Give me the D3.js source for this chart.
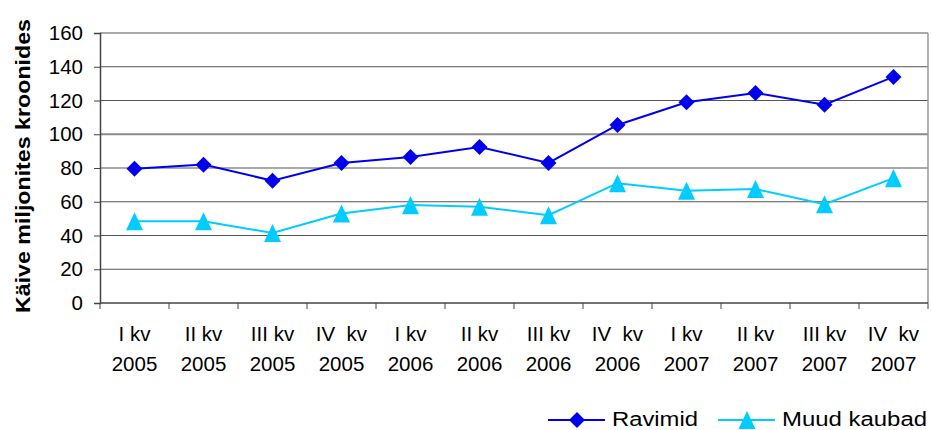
<!DOCTYPE html>
<html>
<head>
<meta charset="utf-8">
<script src="https://cdn.jsdelivr.net/npm/d3@7"></script>
<style>
  body { margin: 0; background: #fff; }
  svg { font-family: Arial, "Liberation Sans", sans-serif; }
</style>
</head>
<body>
<svg id="chart" width="931" height="430"></svg>
<script>
// data
const quarters = ["I kv", "II kv", "III kv", "IV  kv", "I kv", "II kv", "III kv", "IV  kv", "I kv", "II kv", "III kv", "IV  kv"]
const years = ["2005", "2005", "2005", "2005", "2006", "2006", "2006", "2006", "2007", "2007", "2007", "2007"]
const ravimid = [79.5, 82, 72.5, 83, 86.5, 92.5, 83, 105.5, 119, 124.5, 117.5, 134]
const muudKaubad = [48.5, 48.5, 41.5, 53, 58, 57, 52, 71, 66.5, 67.5, 58.5, 74]
const yTicks = [0, 20, 40, 60, 80, 100, 120, 140, 160]

/*** Markers (centred on their box, like the spreadsheet does) ***/
const diamond = {draw(ctx, s) {
  const r = Math.sqrt(s) / 2
  ctx.moveTo(0, -r); ctx.lineTo(r, 0); ctx.lineTo(0, r); ctx.lineTo(-r, 0); ctx.closePath()
}}
const triangle = {draw(ctx, s) {
  const w = Math.sqrt(s) / 2, h = Math.sqrt(s) * 0.53
  ctx.moveTo(0, -h); ctx.lineTo(w, h); ctx.lineTo(-w, h); ctx.closePath()
}}

const series = [
  {name: "Ravimid", values: ravimid, color: "#0000ee", shape: diamond, size: 256, legW: 86},
  {name: "Muud kaubad", values: muudKaubad, color: "#00ccff", shape: triangle, size: 289, legW: 145}
]

/*** Layout ***/
const L = 100, R = 928, T = 33, B = 303
const svg = d3.select("#chart")
const idx = d3.range(quarters.length)

const x = d3.scaleBand().domain(idx).range([L, R])
const y = d3.scaleLinear().domain([0, 160]).range([B, T])
const cx = i => x(i) + x.bandwidth() / 2

// gridlines
svg.append("g")
   .selectAll("line")
   .data(yTicks.filter(v => v > 0))
   .enter()
   .append("line")
   .attr("x1", L).attr("x2", R)
   .attr("y1", d => y(d)).attr("y2", d => y(d))
   .attr("stroke", d => d == 100 ? "#8a8a8a" : "#555")
   .attr("stroke-width", d => d == 100 ? 2 : 1)

// right border
svg.append("line")
   .attr("x1", R).attr("x2", R).attr("y1", T).attr("y2", B)
   .attr("stroke", "#999").attr("stroke-width", 1.5)

// y axis
const yAxis = svg.append("g")
   .attr("transform", "translate(" + L + ",0)")
   .call(d3.axisLeft(y).tickValues(yTicks).tickSize(6).tickPadding(11))
yAxis.select(".domain").attr("stroke", "#444").attr("stroke-width", 1.5)
yAxis.selectAll(".tick line").attr("stroke", "#444")
yAxis.selectAll("text").attr("font-size", 20.5).attr("fill", "#000")
  .attr("font-family", "Arial, 'Liberation Sans', sans-serif")

// x axis with ticks on band boundaries
const xAxis = svg.append("g")
xAxis.append("line")
   .attr("x1", L).attr("x2", R).attr("y1", B).attr("y2", B)
   .attr("stroke", "#444").attr("stroke-width", 1.5)
xAxis.selectAll(".bt")
   .data(idx.concat([quarters.length]))
   .enter()
   .append("line")
   .attr("class", "bt")
   .attr("x1", d => L + d * x.bandwidth()).attr("x2", d => L + d * x.bandwidth())
   .attr("y1", B).attr("y2", B + 6)
   .attr("stroke", "#444")

const lbl = xAxis.selectAll(".lbl")
   .data(idx)
   .enter()
   .append("text")
   .attr("class", "lbl")
   .attr("text-anchor", "middle")
   .attr("font-size", 20.5)
   .attr("x", cx)
lbl.append("tspan").attr("x", cx).attr("y", 341)
   .style("white-space", "pre")
   .text(d => quarters[d])
lbl.append("tspan").attr("x", cx).attr("y", 371)
   .text(d => years[d])

// y title
svg.append("text")
   .attr("transform", "translate(30,166) rotate(-90)")
   .attr("text-anchor", "middle")
   .attr("font-size", 21).attr("font-weight", "bold")
   .attr("textLength", 294).attr("lengthAdjust", "spacingAndGlyphs")
   .text("Käive miljonites kroonides")

// series
const line = d3.line().x((d, i) => cx(i)).y(d => y(d))
series.forEach(s => {
  svg.append("path")
     .datum(s.values)
     .attr("d", line)
     .attr("fill", "none")
     .attr("stroke", s.color).attr("stroke-width", 2)
  svg.append("g")
     .selectAll("path")
     .data(s.values)
     .enter()
     .append("path")
     .attr("d", d3.symbol().type(s.shape).size(s.size))
     .attr("transform", (d, i) => "translate(" + cx(i) + "," + y(d) + ")")
     .attr("fill", s.color)
})

// legend
const legX = [548, 718]
series.forEach((s, i) => {
  const g = svg.append("g").attr("transform", "translate(" + legX[i] + ",420)")
  g.append("line").attr("x1", 0).attr("x2", 57).attr("y1", 0).attr("y2", 0)
   .attr("stroke", s.color).attr("stroke-width", 2)
  g.append("path").attr("d", d3.symbol().type(s.shape).size(s.size))
   .attr("transform", "translate(29,0)").attr("fill", s.color)
  g.append("text").attr("x", 64).attr("y", 6).attr("font-size", 20)
   .attr("textLength", s.legW).attr("lengthAdjust", "spacingAndGlyphs")
   .text(s.name)
})
</script>
</body>
</html>
